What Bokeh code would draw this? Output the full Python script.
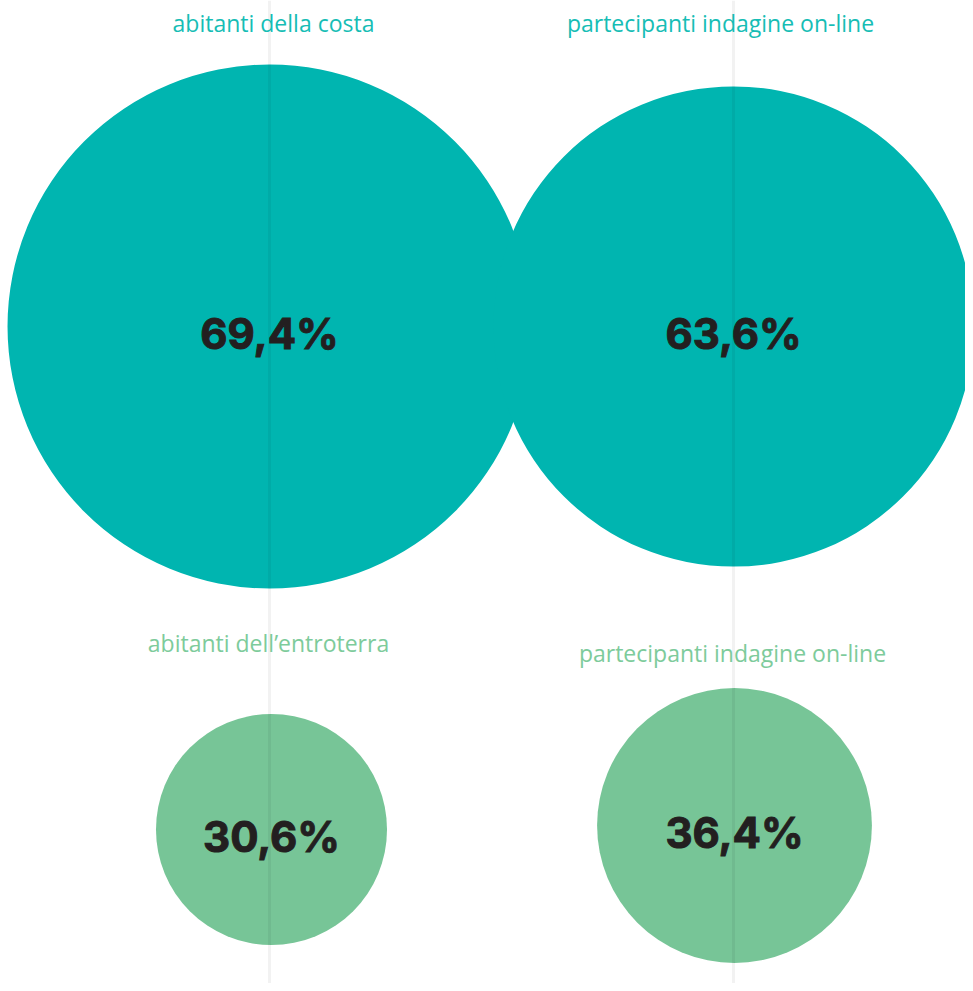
from bokeh.plotting import figure
from bokeh.models import Range1d, ColumnDataSource
from bokeh.core.properties import value
from bokeh.embed import file_html
from bokeh.resources import INLINE

# data
labels = ["abitanti della costa", "partecipanti indagine on-line",
          "abitanti dell\u2019entroterra", "partecipanti indagine on-line"]
values = [69.4, 63.6, 30.6, 36.4]
value_labels = ["69,4%", "63,6%", "30,6%", "36,4%"]
groups = ["costa", "costa", "entroterra", "entroterra"]

# layout (screen-pixel coordinates)
W, H = 965, 983
cx = [269, 733, 271, 734]
cy = [326, 326, 829, 825]
title_x = [273, 720, 268, 732]
title_y = [22, 22, 642, 652]
px_per_unit = 3.775
col_lines = [269, 733]
fill_colors = {"costa": "#00B5B0", "entroterra": "#77C597"}
title_colors = {"costa": "#16BDB5", "entroterra": "#7DCB9B"}

radii = [v * px_per_unit for v in values]

p = figure(width=W, height=H, output_backend="svg", toolbar_location=None,
           x_range=Range1d(0, W), y_range=Range1d(H, 0),
           min_border=0, outline_line_color=None, background_fill_color="white",
           border_fill_color="white")
p.axis.visible = False
p.grid.visible = False

src = ColumnDataSource(dict(
    x=cx, y=cy, r=radii,
    fill=[fill_colors[g] for g in groups],
    tcol=[title_colors[g] for g in groups],
    label=labels, vlabel=value_labels, tx=title_x, ty=title_y,
))

p.circle(x="x", y="y", radius="r", radius_dimension="x", source=src,
         fill_color="fill", line_color=None)

for lx in col_lines:
    p.segment(x0=lx, y0=0, x1=lx, y1=H, line_color="black",
              line_alpha=0.05, line_width=3)

p.text(x="tx", y="ty", text="label", source=src, text_color="tcol",
       text_font=value("Open Sans"), text_font_size="23px",
       text_align="center", text_baseline="middle")

p.text(x="x", y="y", text="vlabel", source=src, text_color="#231F20",
       text_font=value("Inter"), text_font_size="42px", text_font_style="bold",
       text_outline_color="#231F20",
       text_align="center", text_baseline="middle", y_offset=7)

open("out.html", "w").write(file_html(p, INLINE))
